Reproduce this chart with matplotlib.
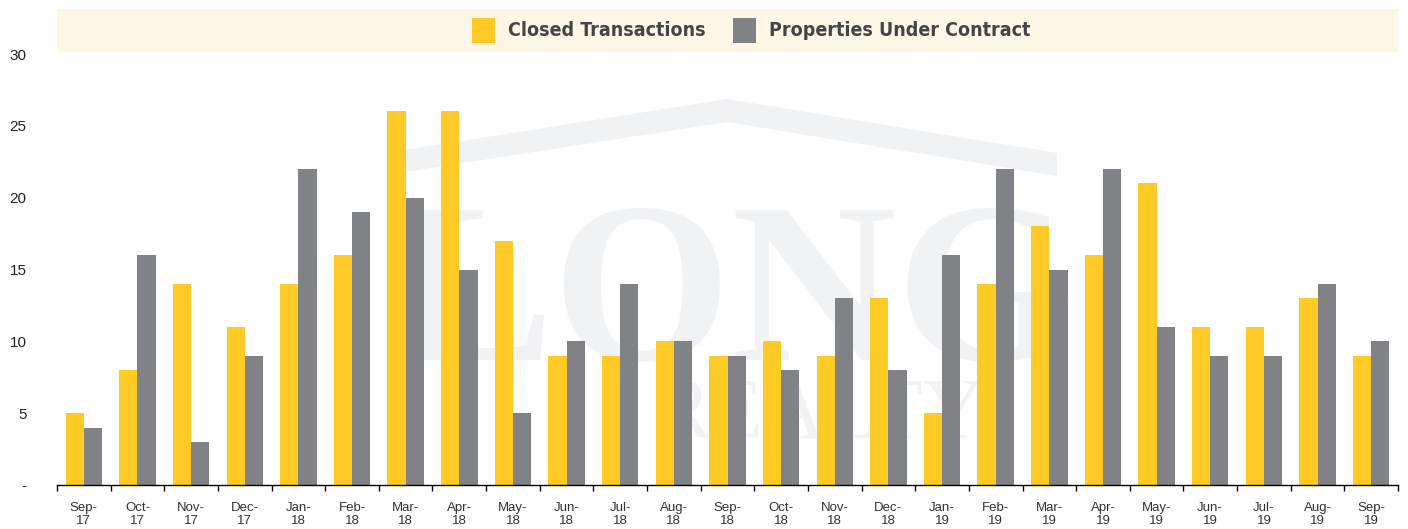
import matplotlib.pyplot as plt
from matplotlib import font_manager
from matplotlib.patches import Rectangle, Polygon
import numpy as np

# Monthly counts, Sep-17 to Sep-19
months = ["Sep-\n17", "Oct-\n17", "Nov-\n17", "Dec-\n17", "Jan-\n18", "Feb-\n18",
          "Mar-\n18", "Apr-\n18", "May-\n18", "Jun-\n18", "Jul-\n18", "Aug-\n18",
          "Sep-\n18", "Oct-\n18", "Nov-\n18", "Dec-\n18", "Jan-\n19", "Feb-\n19",
          "Mar-\n19", "Apr-\n19", "May-\n19", "Jun-\n19", "Jul-\n19", "Aug-\n19",
          "Sep-\n19"]
closed = [5, 8, 14, 11, 14, 16, 26, 26, 17, 9, 9, 10, 9, 10, 9, 13, 5, 14, 18, 16,
          21, 11, 11, 13, 9]
under_contract = [4, 16, 3, 9, 22, 19, 20, 15, 5, 10, 14, 10, 9, 8, 13, 8, 16, 22, 15,
                  22, 11, 9, 9, 14, 10]
yticks = [0, 5, 10, 15, 20, 25, 30]
ytick_labels = ["-", "5", "10", "15", "20", "25", "30"]

YELLOW = "#FFC926"
GRAY = "#818285"
WM = "#f1f2f4"

# look for a condensed bold face for the legend
legend_font = None
for f in font_manager.fontManager.ttflist:
    n = (f.name + " " + f.fname).lower()
    if ("condensed" in n or "narrow" in n or "cond" in f.fname.lower()) and f.weight in (700, "bold"):
        legend_font = font_manager.FontProperties(fname=f.fname)
        break
if legend_font is None:
    legend_font = font_manager.FontProperties(family="Liberation Sans", weight="bold")
legend_font.set_size(14)

W, H = 1408, 529
fig = plt.figure(figsize=(W / 100, H / 100), dpi=100)
plt.rcParams["font.family"] = ["Liberation Sans", "DejaVu Sans"]

def fx(px):
    return px / W

def fy(py):
    return 1 - py / H

ax = fig.add_axes([fx(57), fy(485), fx(1398) - fx(57), fy(54) - fy(485)])
ax.set_zorder(1)
ax.patch.set_alpha(0)

# faint watermark logo behind the chart
roof = Polygon([(fx(405), fy(150)), (fx(727), fy(99)), (fx(1057), fy(153)),
                (fx(1057), fy(176)), (fx(727), fy(122)), (fx(405), fy(172))],
               closed=True, transform=fig.transFigure, facecolor=WM, edgecolor="none",
               zorder=0)
fig.patches.append(roof)
fig.text(fx(737), fy(360), "LONG", ha="center", va="baseline", fontsize=165,
         family="Liberation Serif", fontweight="bold", color=WM, zorder=0)
fig.text(fx(820), fy(438), "REALTY", ha="center", va="baseline", fontsize=62,
         family="Liberation Serif", color=WM, zorder=0)

# legend band
fig.patches.append(Rectangle((fx(57), fy(52)), fx(1398) - fx(57), fy(9) - fy(52),
                             transform=fig.transFigure, facecolor="#fdf7e7",
                             edgecolor="none", zorder=0))
for x0, col, label in [(472, YELLOW, "Closed Transactions"),
                       (733, GRAY, "Properties Under Contract")]:
    fig.patches.append(Rectangle((fx(x0), fy(43)), fx(23), fy(18) - fy(43),
                                 transform=fig.transFigure, facecolor=col,
                                 edgecolor="none", zorder=1))
    fig.text(fx(x0 + 36), fy(31), label, ha="left", va="center",
             fontproperties=legend_font, color="#454545")

x = np.arange(len(months))
bw = 0.34
ax.bar(x - bw / 2, closed, bw, color=YELLOW, zorder=2)
ax.bar(x + bw / 2, under_contract, bw, color=GRAY, zorder=2)

ax.set_xlim(-0.5, len(months) - 0.5)
ax.set_ylim(0, 30)
ax.set_yticks(yticks)
ax.set_yticklabels(ytick_labels, fontsize=11, color="#222222")
ax.tick_params(axis="y", length=0, pad=22)

ax.set_xticks(np.arange(-0.5, len(months), 1))
ax.set_xticklabels([])
ax.tick_params(axis="x", which="major", length=4, width=1, color="black")
ax.set_xticks(x, minor=True)
ax.set_xticklabels(months, minor=True, fontsize=9.5, color="#333333", linespacing=1.15)
ax.tick_params(axis="x", which="minor", length=0, pad=12)

for s in ["top", "right", "left"]:
    ax.spines[s].set_visible(False)
ax.spines["bottom"].set_color("black")
ax.spines["bottom"].set_linewidth(1)

fig.savefig("out.png", dpi=100)
